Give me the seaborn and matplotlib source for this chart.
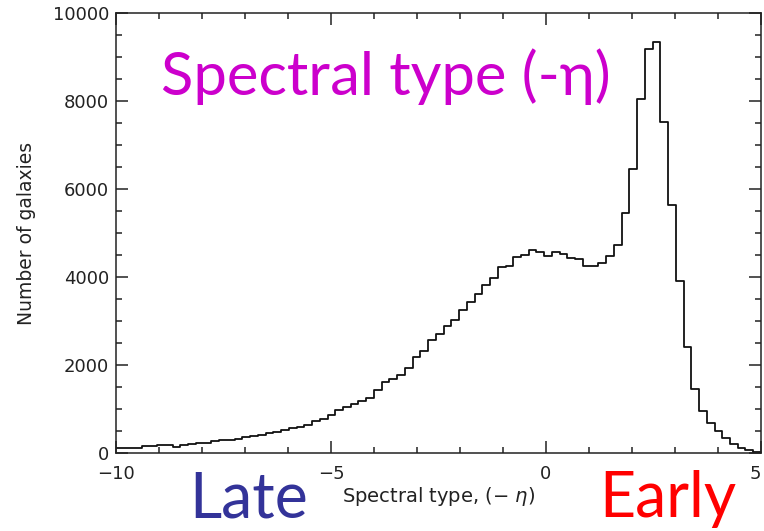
import numpy as np
import pandas as pd
import matplotlib
matplotlib.use("Agg")
import matplotlib.pyplot as plt
from matplotlib.ticker import MultipleLocator
import seaborn as sns

# Histogram of galaxy spectral type, bins of width 0.18 ending at eta = 5
bin_edges = np.round(np.arange(-10.12, 5.0001, 0.18), 2)
galaxy_counts = [
    115, 118, 120, 122, 166, 168, 188, 190, 143, 175,
    215, 220, 222, 282, 288, 292, 325, 356, 386, 415,
    447, 477, 515, 560, 597, 636, 733, 765, 863, 969,
    1044, 1121, 1174, 1257, 1423, 1605, 1673, 1764, 1939, 2179,
    2315, 2558, 2695, 2876, 3012, 3255, 3428, 3618, 3807, 3973,
    4222, 4261, 4449, 4500, 4610, 4575, 4480, 4575, 4518, 4440,
    4400, 4261, 4261, 4322, 4470, 4730, 5460, 6450, 8040, 9180,
    9346, 7530, 5630, 3905, 2406, 1462, 947, 690, 500, 341,
    213, 123, 61, 16,
]
x_ticks = [-10, -5, 0, 5]
x_tick_labels = ["\u221210", "\u22125", "0", "5"]
y_ticks = [0, 2000, 4000, 6000, 8000, 10000]

bin_centers = (bin_edges[:-1] + bin_edges[1:]) / 2
df = pd.DataFrame({"eta": bin_centers, "n": galaxy_counts})

sns.set_style("ticks", {"xtick.direction": "in", "ytick.direction": "in"})
plt.rcParams["font.family"] = ["DejaVu Sans"]

fig = plt.figure(figsize=(7.64, 5.31), dpi=100)
ax = fig.add_axes([0.1518, 0.1469, 0.8442, 0.8286])

sns.histplot(data=df, x="eta", weights="n", bins=list(bin_edges), element="step",
             fill=False, color="#111111", linewidth=1.3, ax=ax)

ax.set_xlim(-10, 5)
ax.set_ylim(0, 10000)
ax.set_xticks(x_ticks)
ax.set_xticklabels(x_tick_labels)
ax.set_yticks(y_ticks)
ax.xaxis.set_minor_locator(MultipleLocator(1))
ax.yaxis.set_minor_locator(MultipleLocator(500))
ax.tick_params(which="both", top=True, right=True, direction="in",
               color="#222222", width=1.1, labelsize=13, labelcolor="#222222")
ax.tick_params(which="major", length=8.5)
ax.tick_params(which="minor", length=4.5)
ax.tick_params(axis="x", which="major", pad=9)
ax.tick_params(axis="y", which="major", pad=5)
ax.get_xticklabels()[-1].set_ha("right")
for s in ax.spines.values():
    s.set_visible(True)
    s.set_linewidth(1.1)
    s.set_color("#222222")

ax.set_ylabel("Number of galaxies", fontsize=13.5, color="#222222", labelpad=12)
ax.set_xlabel("Spectral type, (\u2212 $\\eta$)", fontsize=14, color="#222222",
              labelpad=1)

big = dict(family=["Lato", "DejaVu Sans"], fontsize=43)
fig.text(0.505, 0.855, "Spectral type (-\u03b7)", color="#CC00CC",
         ha="center", va="center", **big)
fig.text(0.325, 0.06, "Late", color="#333399", ha="center", va="center", fontsize=45,
         family=["Lato", "DejaVu Sans"])
fig.text(0.874, 0.06, "Early", color="#FF0000", ha="center", va="center", fontsize=45,
         family=["Lato", "DejaVu Sans"])

fig.savefig("out.png", dpi=100)
